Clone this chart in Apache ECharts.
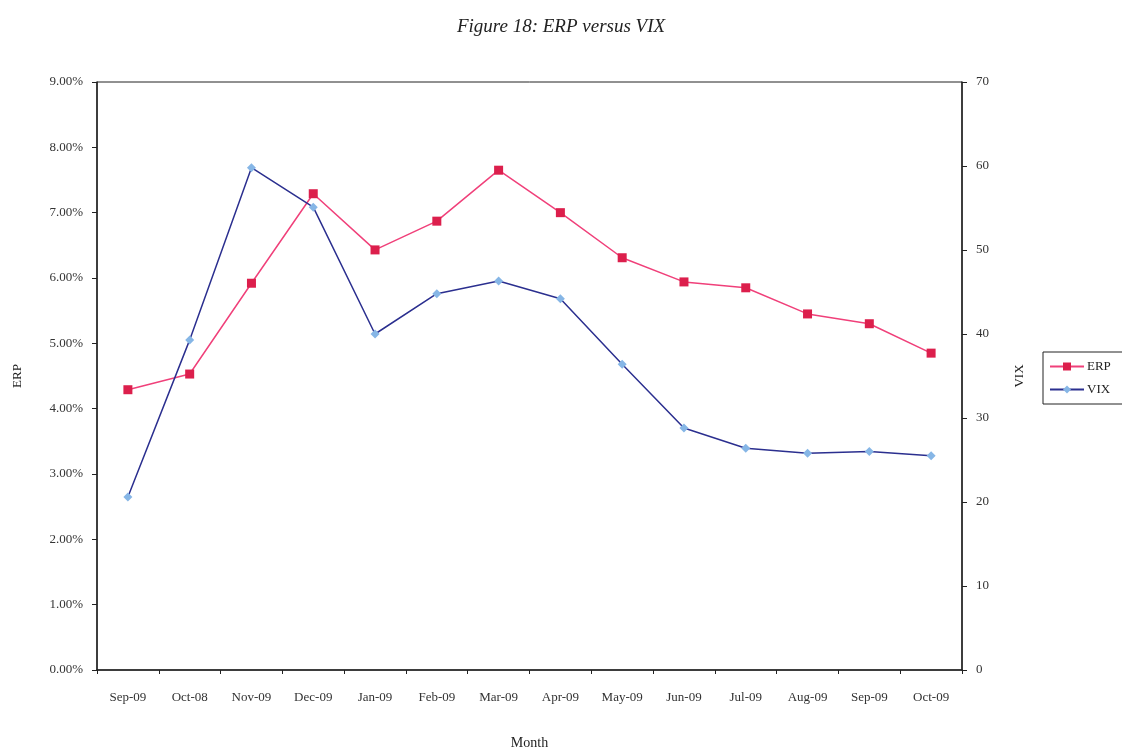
<html>
<head>
    <meta charset="utf-8">
    <title>Figure 18: ERP versus VIX</title>
    <script src="https://cdn.jsdelivr.net/npm/echarts@6/dist/echarts.min.js"></script>
</head>
<style>
    body{margin:0;background:#fff;}
    #chart{width:1122px;height:751px;}
</style>
<body>
<div id="chart"></div>
<script>
    var months=['Sep-09','Oct-08','Nov-09','Dec-09','Jan-09','Feb-09','Mar-09','Apr-09','May-09','Jun-09','Jul-09','Aug-09','Sep-09','Oct-09'];
    // ERP in percent
    var erp=[4.29,4.53,5.92,7.29,6.43,6.87,7.65,7.00,6.31,5.94,5.85,5.45,5.30,4.85];
    var vix=[20.6,39.3,59.8,55.1,40.0,44.8,46.3,44.2,36.4,28.8,26.4,25.8,26.0,25.5];
    var leftTicks=[0,9,1];
    var rightTicks=[0,70,10];

    var serif='"Liberation Serif","DejaVu Serif",serif';
    var myChart=echarts.init(document.getElementById('chart'),null,{renderer:'canvas'});
    var option={
        backgroundColor:'#ffffff',
        textStyle:{fontFamily:serif},
        title:{
            text:'Figure 18: ERP versus VIX',
            left:'center',
            top:12,
            textStyle:{fontFamily:serif,fontStyle:'italic',fontWeight:'normal',fontSize:19,color:'#222'}
        },
        legend:{
            orient:'vertical',
            left:1043,
            top:352,
            padding:[8,20,8,6],
            itemGap:10,
            itemWidth:34,
            itemHeight:10,
            borderColor:'#222',
            borderWidth:1,
            textStyle:{fontFamily:serif,fontSize:13,color:'#222',padding:[0,0,0,-2]},
            data:['ERP','VIX']
        },
        grid:{left:97,right:160,top:82,bottom:81,outerBoundsMode:'none',show:true,borderColor:'#222',borderWidth:1},
        xAxis:{
            type:'category',
            data:months,
            boundaryGap:true,
            name:'Month',
            nameLocation:'middle',
            nameGap:66,
            nameTextStyle:{fontFamily:serif,fontSize:14,color:'#222'},
            axisLine:{lineStyle:{color:'#222',width:1.5}},
            axisTick:{show:true,length:4,lineStyle:{color:'#222'}},
            axisLabel:{fontFamily:serif,fontSize:13,color:'#333',margin:21,interval:0},
            splitLine:{show:false}
        },
        yAxis:[{
            type:'value',
            min:leftTicks[0],
            max:leftTicks[1],
            interval:leftTicks[2],
            name:'ERP',
            nameLocation:'middle',
            nameGap:73,
            nameRotate:90,
            nameTextStyle:{fontFamily:serif,fontSize:13,color:'#222'},
            axisLine:{show:true,lineStyle:{color:'#222',width:1.5}},
            axisTick:{show:true,length:5,lineStyle:{color:'#222'}},
            axisLabel:{fontFamily:serif,fontSize:13,color:'#333',margin:14,formatter:function(v){return v.toFixed(2)+'%';}},
            splitLine:{show:false}
        },{
            type:'value',
            position:'right',
            min:rightTicks[0],
            max:rightTicks[1],
            interval:rightTicks[2],
            name:'VIX',
            nameLocation:'middle',
            nameGap:51,
            nameRotate:90,
            nameTextStyle:{fontFamily:serif,fontSize:13,color:'#222'},
            axisLine:{show:true,lineStyle:{color:'#222',width:1.5}},
            axisTick:{show:true,length:5,lineStyle:{color:'#222'}},
            axisLabel:{fontFamily:serif,fontSize:13,color:'#333',margin:14},
            splitLine:{show:false}
        }],
        series:[{
            name:'ERP',
            type:'line',
            yAxisIndex:0,
            data:erp,
            symbol:'rect',
            symbolSize:9,
            lineStyle:{color:'#f0407a',width:1.5},
            itemStyle:{color:'#dc1f4c'}
        },{
            name:'VIX',
            type:'line',
            yAxisIndex:1,
            data:vix,
            symbol:'diamond',
            symbolSize:9,
            lineStyle:{color:'#2b2f8f',width:1.5},
            itemStyle:{color:'#86b6e6'}
        }]
    };
    myChart.setOption(option);
</script>
</body>
</html>
